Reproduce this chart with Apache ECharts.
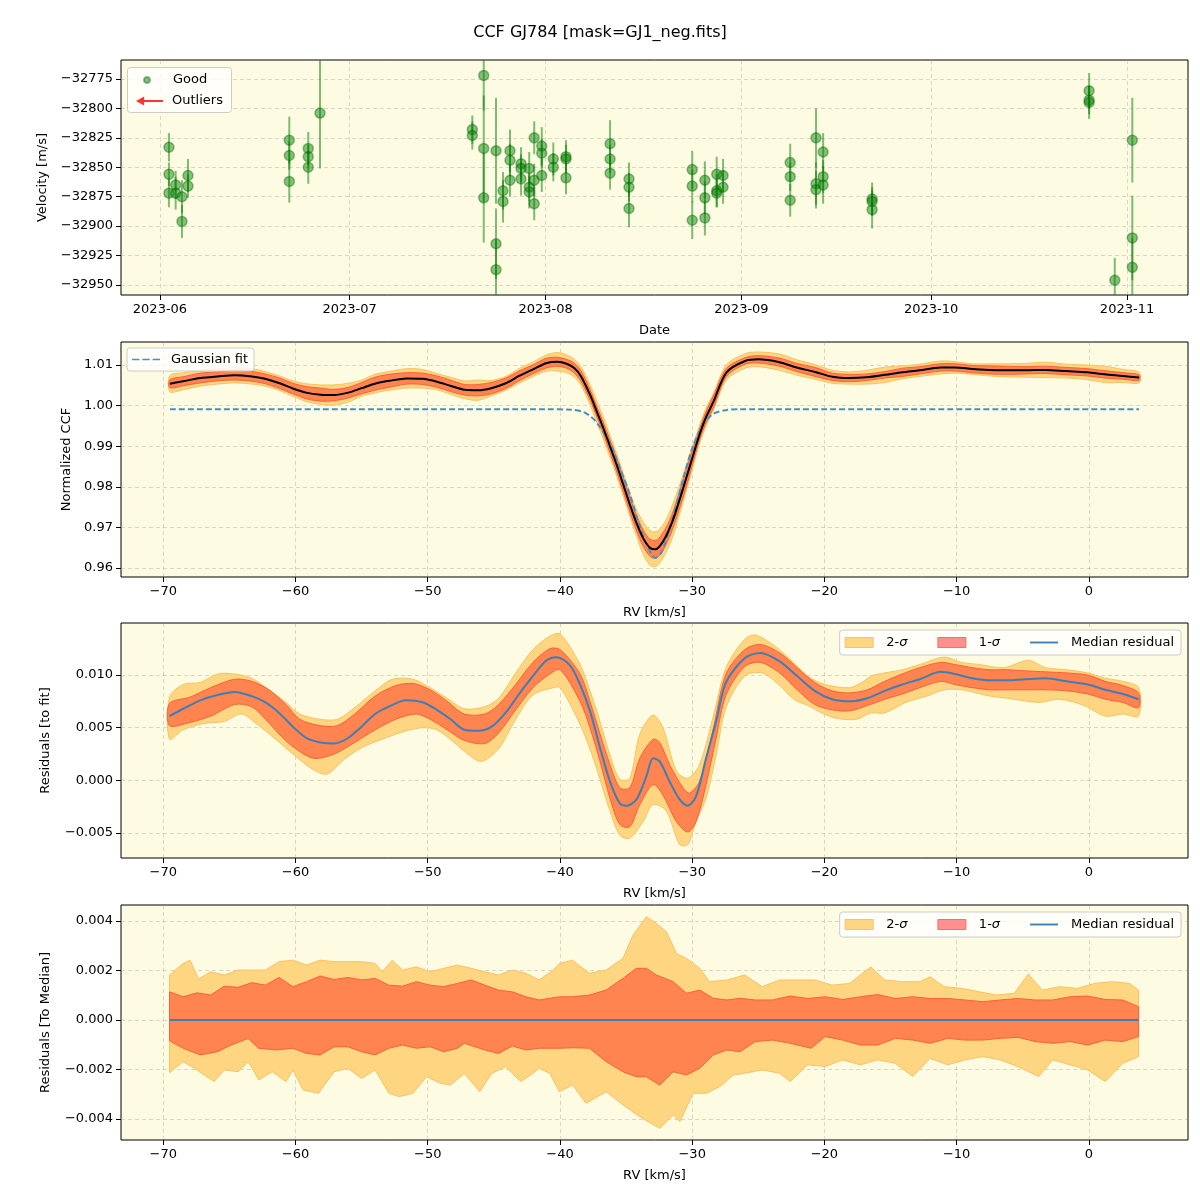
<!DOCTYPE html>
<html><head><meta charset="utf-8">
<script src="https://cdn.jsdelivr.net/npm/echarts@6/dist/echarts.min.js"></script>
<style>html,body{margin:0;padding:0;background:#fff}#c{width:1200px;height:1200px}</style>
</head><body><div id="c"></div>
<script>
// ---------- Panel 1: RV time series ----------
const obsTime = ['2023-06-02 10:00','2023-06-02 10:00','2023-06-02 10:00','2023-06-03 11:30','2023-06-03 11:30','2023-06-04 11:30','2023-06-04 11:30','2023-06-05 10:20','2023-06-05 10:20',
'2023-06-21 11:00','2023-06-21 11:00','2023-06-21 11:00','2023-06-24 11:00','2023-06-24 11:00','2023-06-24 11:00','2023-06-26 07:40',
'2023-07-20 10:00','2023-07-20 10:00','2023-07-22 05:20','2023-07-22 05:20','2023-07-22 05:20','2023-07-24 04:00','2023-07-24 04:00','2023-07-24 04:00',
'2023-07-25 06:30','2023-07-25 06:30','2023-07-26 09:00','2023-07-26 09:00','2023-07-26 09:00','2023-07-28 03:00','2023-07-28 03:00','2023-07-28 03:00',
'2023-07-29 10:00','2023-07-29 10:00','2023-07-29 10:00','2023-07-30 05:00','2023-07-30 05:00','2023-07-30 05:00','2023-07-31 09:40','2023-07-31 09:40','2023-07-31 09:40',
'2023-08-02 05:30','2023-08-02 05:30','2023-08-04 05:40','2023-08-04 05:40','2023-08-04 05:40','2023-08-11 05:00','2023-08-11 05:00','2023-08-11 05:00',
'2023-08-14 05:00','2023-08-14 05:00','2023-08-14 05:00','2023-08-24 05:00','2023-08-24 05:00','2023-08-24 05:00','2023-08-26 05:00','2023-08-26 05:00','2023-08-26 05:00',
'2023-08-28 02:00','2023-08-28 02:00','2023-08-28 02:00','2023-08-29 02:00','2023-08-29 02:00',
'2023-09-08 17:00','2023-09-08 17:00','2023-09-08 17:00','2023-09-12 19:00','2023-09-12 19:00','2023-09-12 19:00','2023-09-13 22:00','2023-09-13 22:00','2023-09-13 22:00',
'2023-09-21 16:00','2023-09-21 16:00','2023-09-21 16:00','2023-10-26 00:00','2023-10-26 00:00','2023-10-26 00:00','2023-10-30 01:30',
'2023-11-01 20:00','2023-11-01 20:00','2023-11-01 20:00'];
const obsVel = [-32833,-32856,-32872,-32865,-32872,-32875,-32896,-32857,-32866,
-32827,-32840,-32862,-32834,-32841,-32850,-32804,
-32818,-32823,-32772,-32834,-32876,-32836,-32915,-32937,
-32870,-32879,-32836,-32844,-32861,-32847,-32851,-32860,
-32851,-32867,-32871,-32825,-32861,-32881,-32832,-32838,-32857,
-32843,-32850,-32841,-32843,-32859,-32830,-32843,-32855,
-32860,-32867,-32885,-32852,-32866,-32895,-32861,-32876,-32893,
-32856,-32870,-32872,-32857,-32867,
-32846,-32858,-32878,-32825,-32864,-32869,-32837,-32858,-32865,
-32877,-32879,-32886,-32785,-32793,-32795,-32946,
-32827,-32910,-32935];
const obsErr = [12,10,12,12,14,14,14,14,10,
20,12,18,14,10,14,47,
12,12,30,45,38,45,30,25,
16,18,18,14,14,14,12,14,
14,12,14,14,14,14,16,12,14,
14,12,14,12,14,20,12,14,
14,12,16,16,14,16,16,14,15,
15,14,12,14,14,
16,12,14,25,18,16,16,14,16,
14,12,16,15,12,14,19,
36,36,25];
const monthTicks = ['2023-06-01','2023-07-01','2023-08-01','2023-09-01','2023-10-01','2023-11-01'];
const velTicks = [-32950,-32925,-32900,-32875,-32850,-32825,-32800,-32775];

// ---------- Panel 2: CCF ----------
const ccfRV = [-69.5,-68.5,-67.2,-65.9,-64.6,-63.3,-62.3,-61.2,-60.2,-59.2,-58.1,-57.1,-56.0,-55.0,-54.0,-52.9,-51.6,-50.4,-49.3,-48.3,-47.2,-46.2,-45.2,-44.1,-43.1,-42.0,-41.0,-40.2,-39.5,-38.9,-38.4,-37.7,-37.2,-36.7,-36.2,-35.7,-35.2,-34.7,-34.2,-33.7,-33.2,-32.8,-32.5,-32.0,-31.5,-31.0,-30.5,-30.0,-29.5,-29.0,-28.4,-27.4,-26.0,-25.0,-23.4,-22.1,-20.7,-19.4,-18.1,-16.8,-15.4,-14.1,-12.8,-11.2,-10.1,-8.8,-7.5,-6.2,-4.8,-3.3,-1.7,-0.1,1.2,2.6,3.8];
const ccfVal = [1.0054,1.0060,1.0068,1.0072,1.0075,1.0072,1.0066,1.0055,1.0042,1.0032,1.0027,1.0026,1.0032,1.0043,1.0054,1.0061,1.0067,1.0066,1.0059,1.0049,1.0039,1.0038,1.0043,1.0055,1.0073,1.0090,1.0105,1.0108,1.0103,1.0092,1.0072,1.0025,0.9984,0.9943,0.9898,0.9853,0.9804,0.9755,0.9710,0.9673,0.9650,0.9646,0.9652,0.9677,0.9714,0.9763,0.9816,0.9870,0.9923,0.9968,1.0009,1.0082,1.0110,1.0114,1.0107,1.0094,1.0083,1.0071,1.0068,1.0070,1.0076,1.0082,1.0087,1.0094,1.0094,1.0090,1.0088,1.0087,1.0087,1.0088,1.0085,1.0082,1.0077,1.0073,1.0069];
const ccfSig1 = [.0010,.0011,.0012,.0011,.0012,.0012,.0012,.0013,.0013,.0015,.0016,.0014,.0013,.0014,.0016,.0016,.0014,.0014,.0014,.0014,.0013,.0014,.0014,.0013,.0012,.0011,.0012,.0011,.0011,.0012,.0013,.0013,.0013,.0014,.0016,.0017,.0018,.0018,.0019,.0020,.0021,.0022,.0022,.0021,.0020,.0021,.0022,.0018,.0014,.0014,.0015,.0010,.0008,.0009,.0010,.0010,.0011,.0009,.0009,.0008,.0008,.0010,.0009,.0009,.0009,.0009,.0010,.0010,.0009,.0009,.0009,.0009,.0009,.0008,.0007];
const ccfSig2 = [.0020,.0021,.0020,.0019,.0019,.0019,.0018,.0018,.0019,.0022,.0024,.0025,.0023,.0020,.0023,.0023,.0024,.0023,.0020,.0021,.0022,.0025,.0019,.0017,.0018,.0018,.0020,.0023,.0022,.0022,.0023,.0025,.0026,.0027,.0027,.0028,.0028,.0029,.0033,.0040,.0043,.0043,.0042,.0040,.0040,.0036,.0032,.0028,.0022,.0022,.0020,.0019,.0018,.0018,.0020,.0019,.0018,.0016,.0015,.0017,.0019,.0016,.0015,.0016,.0014,.0013,.0015,.0016,.0017,.0019,.0017,.0018,.0020,.0016,.0013];
const gaussFit = [[-69.5,0.9991],[-41,0.9991],[-39.2,0.9990],[-38.2,0.9984],[-37.5,0.9968],[-37.0,0.9948],[-36.2,0.9907],[-35.5,0.9849],[-34.7,0.9780],[-34.0,0.9706],[-33.3,0.9648],[-32.8,0.9625],[-32.3,0.9640],[-31.7,0.9698],[-31.2,0.9755],[-30.6,0.9829],[-30.0,0.9894],[-29.2,0.9952],[-28.4,0.9980],[-27.4,0.9989],[-26.4,0.9991],[3.8,0.9991]];
const rvTicks = [-70,-60,-50,-40,-30,-20,-10,0];
const ccfTicks = [0.96,0.97,0.98,0.99,1.00,1.01];

// ---------- Panel 3: residuals to fit ----------
const resMed = [[-69.53,0.0061],[-68.5,0.0068],[-67.2,0.0076],[-65.9,0.0081],[-64.6,0.0084],[-63.31,0.0080],[-62.27,0.0074],[-61.24,0.0064],[-60.2,0.0051],[-59.16,0.0040],[-58.13,0.0036],[-57.09,0.0035],[-56.05,0.0040],[-55.01,0.0051],[-53.98,0.0063],[-52.94,0.0070],[-51.64,0.0076],[-50.35,0.0074],[-49.31,0.0067],[-48.27,0.0058],[-47.24,0.0048],[-46.2,0.0047],[-45.16,0.0051],[-44.12,0.0064],[-43.09,0.0082],[-42.05,0.0099],[-41.01,0.0114],[-40.24,0.0117],[-39.23,0.0109],[-38.48,0.0091],[-37.73,0.0066],[-36.97,0.0031],[-36.22,-0.0001],[-35.47,-0.0022],[-34.97,-0.0024],[-34.21,-0.0018],[-33.46,0.0004],[-32.96,0.0021],[-32.46,0.0018],[-31.71,-0.0001],[-30.95,-0.0018],[-30.33,-0.0024],[-29.7,-0.0015],[-28.95,0.0021],[-28.19,0.0056],[-27.44,0.0093],[-26.03,0.0116],[-24.84,0.0121],[-23.38,0.0113],[-22.06,0.0099],[-20.73,0.0085],[-19.41,0.0077],[-18.09,0.0075],[-16.76,0.0078],[-15.44,0.0085],[-14.11,0.0091],[-12.79,0.0096],[-11.2,0.0103],[-10.14,0.0101],[-8.82,0.0097],[-7.5,0.0095],[-6.17,0.0095],[-4.85,0.0096],[-3.26,0.0097],[-1.67,0.0094],[-0.08,0.0091],[1.24,0.0086],[2.57,0.0082],[3.76,0.0077]];
const resUp1 = [[-69.53,0.0073],[-67.98,0.0079],[-66.42,0.0088],[-64.61,0.0096],[-63.31,0.0094],[-62.01,0.0086],[-60.72,0.0072],[-59.68,0.0058],[-58.13,0.0052],[-56.83,0.0052],[-55.53,0.0063],[-53.98,0.0080],[-52.42,0.0090],[-51.12,0.0092],[-49.83,0.0086],[-48.53,0.0075],[-47.24,0.0063],[-45.68,0.0063],[-44.64,0.0072],[-43.35,0.0091],[-42.05,0.0112],[-40.76,0.0125],[-39.98,0.0124],[-38.48,0.0101],[-37.73,0.0075],[-36.97,0.0044],[-36.22,0.0015],[-35.47,-0.0007],[-34.72,-0.0007],[-33.96,0.0021],[-32.96,0.0039],[-32.46,0.0036],[-31.71,0.0015],[-30.70,-0.0007],[-30.2,-0.0012],[-29.45,-0.0001],[-28.44,0.0047],[-27.44,0.0101],[-26.03,0.0124],[-24.84,0.0129],[-23.38,0.0121],[-22.06,0.0107],[-20.73,0.0093],[-19.41,0.0085],[-18.09,0.0083],[-16.76,0.0086],[-15.44,0.0094],[-14.11,0.0101],[-12.79,0.0107],[-11.2,0.0112],[-10.14,0.0110],[-8.82,0.0107],[-7.5,0.0105],[-6.17,0.0105],[-4.85,0.0104],[-3.26,0.0103],[-1.67,0.0102],[-0.08,0.0100],[1.24,0.0094],[2.57,0.0090],[3.76,0.0083]];
const resLo1 = [[-69.53,0.0052],[-67.98,0.0055],[-66.42,0.0061],[-64.61,0.0072],[-63.31,0.0070],[-62.27,0.0058],[-61.24,0.0044],[-60.2,0.0032],[-58.64,0.0021],[-57.09,0.0025],[-55.53,0.0036],[-53.98,0.0048],[-52.42,0.0058],[-50.87,0.0063],[-49.83,0.0058],[-48.53,0.0048],[-47.24,0.0038],[-45.68,0.0035],[-44.64,0.0045],[-43.35,0.0067],[-42.05,0.0088],[-40.76,0.0101],[-39.98,0.0105],[-38.48,0.0075],[-37.73,0.0050],[-36.97,0.0018],[-36.22,-0.0017],[-35.47,-0.0042],[-34.72,-0.0044],[-33.96,-0.0023],[-32.96,-0.0004],[-32.21,-0.0014],[-31.2,-0.0039],[-30.33,-0.0049],[-29.7,-0.0039],[-28.95,-0.0004],[-28.19,0.0040],[-27.44,0.0081],[-26.03,0.0108],[-24.84,0.0112],[-23.38,0.0102],[-22.06,0.0086],[-20.73,0.0072],[-19.41,0.0067],[-18.09,0.0066],[-16.76,0.0071],[-15.44,0.0077],[-14.11,0.0082],[-12.79,0.0088],[-11.2,0.0094],[-10.14,0.0091],[-8.82,0.0088],[-7.5,0.0086],[-6.17,0.0086],[-4.85,0.0086],[-3.26,0.0086],[-1.67,0.0085],[-0.08,0.0082],[1.24,0.0077],[2.57,0.0074],[3.76,0.0069]];
const resUp2 = [[-69.53,0.0079],[-68.5,0.0091],[-67.2,0.0093],[-65.9,0.0101],[-64.61,0.0101],[-63.31,0.0097],[-62.01,0.0086],[-60.72,0.0074],[-59.68,0.0063],[-58.13,0.0058],[-56.83,0.0058],[-55.53,0.0069],[-53.98,0.0085],[-52.68,0.0096],[-51.12,0.0096],[-49.83,0.0088],[-48.53,0.0078],[-47.24,0.0068],[-45.68,0.0070],[-44.64,0.0078],[-43.35,0.0102],[-42.05,0.0124],[-40.76,0.0137],[-39.98,0.0139],[-38.48,0.0110],[-37.73,0.0085],[-36.97,0.0056],[-36.22,0.0024],[-35.47,0.0001],[-34.72,0.0002],[-33.96,0.0044],[-32.96,0.0062],[-32.21,0.0050],[-31.2,0.0009],[-30.33,0.0002],[-29.45,0.0015],[-28.44,0.0059],[-27.44,0.0107],[-26.03,0.0134],[-25.23,0.0138],[-23.91,0.0129],[-22.59,0.0115],[-21.26,0.0099],[-19.94,0.0091],[-18.09,0.0088],[-17.03,0.0094],[-16.5,0.0099],[-15.44,0.0102],[-14.11,0.0105],[-12.79,0.0110],[-10.94,0.0117],[-9.61,0.0112],[-8.29,0.0110],[-6.44,0.0107],[-4.58,0.0114],[-3.26,0.0107],[-1.67,0.0105],[-0.08,0.0102],[1.24,0.0097],[2.57,0.0094],[3.76,0.0088]];
const resLo2 = [[-69.53,0.0039],[-68.5,0.0048],[-66.94,0.0054],[-65.39,0.0056],[-64.09,0.0063],[-62.79,0.0052],[-61.5,0.0039],[-60.2,0.0025],[-58.64,0.0010],[-57.61,0.0006],[-56.31,0.0020],[-55.01,0.0031],[-53.46,0.0039],[-51.64,0.0047],[-50.35,0.0050],[-49.31,0.0048],[-48.01,0.0036],[-46.98,0.0025],[-45.94,0.0018],[-44.64,0.0030],[-43.35,0.0058],[-42.05,0.0081],[-40.5,0.0088],[-39.98,0.0088],[-38.48,0.0053],[-37.48,0.0021],[-36.22,-0.0029],[-35.47,-0.0052],[-34.72,-0.0055],[-33.71,-0.0039],[-32.96,-0.0023],[-31.96,-0.0029],[-30.95,-0.0061],[-30.33,-0.0061],[-29.7,-0.0039],[-28.95,-0.0017],[-28.19,0.0024],[-27.44,0.0069],[-26.03,0.0099],[-24.7,0.0102],[-23.38,0.0090],[-22.32,0.0077],[-21.26,0.0071],[-20.2,0.0064],[-19.14,0.0059],[-17.56,0.0058],[-16.5,0.0064],[-15.44,0.0064],[-13.85,0.0074],[-12.26,0.0080],[-10.94,0.0086],[-9.61,0.0086],[-7.5,0.0080],[-6.17,0.0078],[-3.79,0.0074],[-2.2,0.0077],[-0.35,0.0071],[1.24,0.0061],[2.57,0.0063],[3.76,0.0061]];
const resTicks = [-0.005,0.000,0.005,0.010];

// ---------- Panel 4: residuals to median ----------
const medZero = [[-69.53,0],[3.76,0]];
const mUp2 = [[-69.53,0.00182],[-68.5,0.00229],[-67.98,0.00242],[-67.33,0.00166],[-66.42,0.00195],[-65.39,0.00182],[-64.35,0.00202],[-63.31,0.00202],[-62.27,0.00202],[-61.24,0.00236],[-60.2,0.00242],[-59.16,0.00222],[-58.13,0.00242],[-57.09,0.00236],[-56.05,0.00236],[-55.01,0.00236],[-53.98,0.00229],[-53.46,0.00195],[-52.68,0.00242],[-51.9,0.00202],[-50.87,0.00215],[-49.83,0.00195],[-48.79,0.00209],[-47.75,0.00222],[-46.72,0.00209],[-45.68,0.00195],[-44.64,0.00182],[-43.61,0.00202],[-42.57,0.00189],[-41.57,0.00162],[-40.5,0.00202],[-40.05,0.00229],[-39.04,0.00242],[-38.42,0.00215],[-37.77,0.00189],[-36.51,0.00202],[-35.24,0.00249],[-34.48,0.00343],[-33.47,0.00418],[-32.71,0.00391],[-31.95,0.00357],[-31.19,0.00269],[-30.43,0.00249],[-29.42,0.00209],[-28.68,0.00155],[-27.35,0.00162],[-26.03,0.00182],[-24.7,0.00135],[-23.38,0.00162],[-22.06,0.00162],[-20.73,0.00162],[-19.41,0.00141],[-18.09,0.00148],[-17.29,0.00182],[-16.5,0.00215],[-15.44,0.00162],[-14.11,0.00155],[-12.79,0.00155],[-12,0.00175],[-10.94,0.00135],[-9.61,0.00128],[-8.29,0.00114],[-6.97,0.00101],[-5.64,0.00108],[-4.58,0.00186],[-3.52,0.00121],[-2.2,0.00135],[-0.88,0.00128],[0.45,0.00148],[1.77,0.00155],[3.09,0.00148],[3.76,0.00121]];
const mLo2 = [[-69.53,-0.00213],[-68.5,-0.00168],[-67.46,-0.00202],[-66.16,-0.00249],[-65.39,-0.00202],[-64.35,-0.00209],[-63.57,-0.00168],[-62.79,-0.00242],[-61.76,-0.00209],[-60.72,-0.00249],[-60.2,-0.00202],[-59.42,-0.00283],[-58.26,-0.00296],[-57.09,-0.00209],[-56.05,-0.00195],[-55.01,-0.00236],[-53.98,-0.00202],[-52.94,-0.00296],[-52.16,-0.0031],[-51.12,-0.00296],[-50.09,-0.00229],[-49.05,-0.00256],[-48.27,-0.00263],[-47.23,-0.00216],[-46.07,-0.0029],[-45.16,-0.00216],[-44.12,-0.00189],[-42.96,-0.00249],[-42.05,-0.00216],[-41.57,-0.00195],[-40.76,-0.00216],[-40.05,-0.0029],[-39.04,-0.00263],[-38.03,-0.00337],[-36.51,-0.0029],[-35.24,-0.00343],[-33.97,-0.00391],[-32.46,-0.00438],[-31.44,-0.00384],[-30.94,-0.00411],[-29.92,-0.00296],[-28.91,-0.00296],[-27.9,-0.00269],[-26.89,-0.00222],[-26.03,-0.00215],[-24.7,-0.00202],[-23.38,-0.00215],[-22.59,-0.00249],[-21.26,-0.00181],[-19.94,-0.00188],[-18.62,-0.00161],[-17.29,-0.00181],[-15.97,-0.00161],[-14.64,-0.00175],[-13.32,-0.00228],[-12,-0.00155],[-10.67,-0.00181],[-9.35,-0.00161],[-8.02,-0.00148],[-6.7,-0.00161],[-5.38,-0.00188],[-3.79,-0.00228],[-2.73,-0.00161],[-1.41,-0.00181],[-0.08,-0.00202],[1.24,-0.00249],[2.57,-0.00175],[3.76,-0.00148]];
const mUp1 = [[-69.53,0.00114],[-68.5,0.00094],[-67.46,0.0011],[-66.42,0.00101],[-65.39,0.00137],[-64.35,0.00132],[-63.31,0.00151],[-62.27,0.00141],[-61.24,0.00172],[-60.2,0.00135],[-59.16,0.00155],[-58.13,0.00178],[-57.09,0.00164],[-56.05,0.00172],[-55.01,0.00162],[-53.98,0.00168],[-52.94,0.00141],[-51.9,0.00137],[-50.87,0.00155],[-49.83,0.00141],[-48.79,0.00135],[-47.75,0.00148],[-46.72,0.00162],[-45.68,0.00141],[-44.64,0.00121],[-43.61,0.00114],[-42.57,0.00094],[-41.57,0.00081],[-40.05,0.00094],[-39.04,0.00094],[-37.77,0.00101],[-36.51,0.00121],[-35.24,0.00168],[-34.23,0.00209],[-33.47,0.00209],[-32.71,0.00182],[-31.44,0.00155],[-30.43,0.00108],[-29.42,0.00121],[-28.41,0.00088],[-27.39,0.00081],[-26.38,0.00088],[-25.23,0.00081],[-23.91,0.00081],[-22.59,0.00097],[-21.26,0.00087],[-19.94,0.00094],[-18.62,0.00083],[-17.29,0.00094],[-15.97,0.00103],[-14.64,0.00087],[-13.32,0.00094],[-12,0.00087],[-10.67,0.00087],[-9.35,0.00081],[-8.02,0.00074],[-6.7,0.00081],[-5.38,0.00087],[-4.05,0.00081],[-2.73,0.00081],[-1.41,0.00094],[-0.08,0.00097],[1.24,0.00083],[2.57,0.00081],[3.76,0.00054]];
const mLo1 = [[-69.53,-0.00084],[-68.5,-0.00114],[-67.2,-0.00141],[-65.91,-0.00128],[-64.87,-0.00101],[-63.57,-0.00074],[-62.79,-0.00114],[-61.5,-0.00121],[-60.2,-0.00114],[-59.16,-0.00135],[-58.13,-0.00141],[-57.09,-0.00108],[-56.05,-0.00108],[-55.01,-0.00128],[-53.98,-0.00141],[-52.94,-0.00114],[-51.9,-0.00101],[-50.87,-0.00114],[-49.83,-0.00108],[-48.79,-0.00128],[-47.75,-0.00114],[-47.23,-0.00094],[-45.68,-0.00121],[-44.64,-0.00135],[-43.61,-0.00105],[-42.57,-0.00121],[-41.57,-0.00114],[-40.05,-0.00114],[-39.04,-0.00112],[-37.77,-0.00114],[-36.51,-0.00168],[-35.24,-0.00209],[-34.23,-0.00229],[-33.47,-0.00229],[-32.46,-0.00263],[-31.44,-0.00209],[-30.43,-0.00222],[-29.42,-0.00195],[-28.41,-0.00141],[-27.39,-0.00121],[-26.38,-0.00128],[-25.23,-0.00087],[-23.91,-0.00081],[-22.59,-0.00094],[-21,-0.00114],[-19.94,-0.00067],[-18.62,-0.00081],[-17.29,-0.00101],[-15.97,-0.00101],[-14.64,-0.00074],[-13.32,-0.00081],[-12,-0.00094],[-10.67,-0.00074],[-9.35,-0.00081],[-8.02,-0.00081],[-6.7,-0.00074],[-5.38,-0.0007],[-4.05,-0.00087],[-2.73,-0.00094],[-1.41,-0.00087],[-0.08,-0.00101],[1.24,-0.00081],[2.57,-0.00087],[3.76,-0.00067]];
const medTicks = [-0.004,-0.002,0.000,0.002,0.004];

// ---------- styling ----------
const FONT = 'DejaVu Sans';
const BG = '#fdfbe2';
const C2 = '#fed581', C2E = '#fbc260';
const C1 = '#ff8450', C1E = '#fb5f3c';
const BLUE = '#3d7fb5';
const GRID = {color: 'rgba(150,150,150,0.45)', type: [4, 3], width: 0.8};
const minus = (s) => s.replace('-', '\u2212');
const fmt = (d) => (v) => minus(Number(v).toFixed(d));

const tops = [60, 342, 623, 905];
const grids = tops.map(t => ({left: 121, top: t, width: 1067, height: 235, show: true, backgroundColor: BG, borderColor: '#000', borderWidth: 1, containLabel: false}));

function ts(s) { return new Date(s.replace(' ', 'T')).getTime(); }

function xRV(gi) {
  return {type: 'value', gridIndex: gi, min: -73.2, max: 7.5, position: 'bottom',
    name: 'RV [km/s]', nameLocation: 'middle', nameGap: 29,
    nameTextStyle: {fontFamily: FONT, fontSize: 13, color: '#000'},
    axisLine: {show: false, onZero: false},
    axisTick: {show: true, length: 5, inside: false, lineStyle: {color: '#000', width: 1}, customValues: rvTicks},
    axisLabel: {customValues: rvTicks, formatter: fmt(0), fontFamily: FONT, fontSize: 13, color: '#000', margin: 8},
    splitLine: {show: true, lineStyle: GRID}};
}
function yAx(gi, min, max, ticks, dec, name, gap) {
  return {type: 'value', gridIndex: gi, min: min, max: max, position: 'left',
    name: name, nameLocation: 'middle', nameGap: gap, nameRotate: 90,
    nameTextStyle: {fontFamily: FONT, fontSize: 13, color: '#000'},
    axisLine: {show: false, onZero: false},
    axisTick: {show: true, length: 5, lineStyle: {color: '#000', width: 1}, customValues: ticks},
    axisLabel: {customValues: ticks, formatter: fmt(dec), fontFamily: FONT, fontSize: 13, color: '#000', margin: 8},
    splitLine: {show: true, lineStyle: GRID}};
}

function band(name, xi, upper, lower, fill, edge, z, smooth) {
  return {type: 'custom', name: name, xAxisIndex: xi, yAxisIndex: xi, z: z, silent: true,
    data: [upper[0]],
    renderItem: function (params, api) {
      const up = upper.map(p => api.coord(p));
      const lo = lower.map(p => api.coord(p)).reverse();
      return {type: 'polygon', shape: {points: up.concat(lo), smooth: smooth},
        style: {fill: fill, stroke: edge, lineWidth: 1}};
    }};
}

const ccfUp2 = ccfRV.map((r, i) => [r, ccfVal[i] + ccfSig2[i]]);
const ccfLo2 = ccfRV.map((r, i) => [r, ccfVal[i] - ccfSig2[i]]);
const ccfUp1 = ccfRV.map((r, i) => [r, ccfVal[i] + ccfSig1[i]]);
const ccfLo1 = ccfRV.map((r, i) => [r, ccfVal[i] - ccfSig1[i]]);

const obsData = obsTime.map((t, i) => [ts(t), obsVel[i], obsErr[i]]);

const arrowIcon = 'path://M0,5 L9,0 L9,4 L30,4 L30,6 L9,6 L9,10 Z';
function legText(pad) {
  return {fontFamily: FONT, fontSize: 13, color: '#000',
    rich: {t: {fontFamily: FONT, fontSize: 13, color: '#000', padding: [0, 0, 0, pad]},
           i: {fontFamily: FONT, fontSize: 13, fontStyle: 'italic', color: '#000'}}};
}
const legBox = {backgroundColor: 'rgba(255,255,255,0.8)', borderColor: '#cccccc', borderWidth: 1, borderRadius: 3};
function sigLegend(top) {
  return Object.assign({top: top, right: 19, orient: 'horizontal', itemWidth: 28, itemHeight: 10, itemGap: 30,
    padding: [6, 7, 6, 5], z: 10, selectedMode: false,
    formatter: (n) => n.indexOf('\u03c3') >= 0 ? '{t|' + n.replace('\u03c3', '') + '}{i|\u03c3}' : '{t|' + n + '}',
    textStyle: legText(8),
    data: [
      {name: '2-\u03c3', icon: 'rect', itemStyle: {color: C2, borderColor: C2E, borderWidth: 1}},
      {name: '1-\u03c3', icon: 'rect', itemStyle: {color: '#ff9090', borderColor: '#ff6a6a', borderWidth: 1}},
      {name: 'Median residual', icon: 'path://M0,0 L30,0 L30,2 L0,2 Z', itemStyle: {color: BLUE}}
    ]}, legBox);
}

const xMin = ts('2023-05-25 20:00'), xMax = ts('2023-11-10 15:30');
const option = {
  animation: false,
  backgroundColor: '#fff',
  textStyle: {fontFamily: FONT},
  title: {text: 'CCF GJ784 [mask=GJ1_neg.fits]', left: 'center', top: 20,
    textStyle: {fontFamily: FONT, fontSize: 16, fontWeight: 'normal', color: '#000'}},
  graphic: [{type: 'rect', left: 127, top: 67, z: 9, shape: {width: 104, height: 45, r: 3},
    style: {fill: 'rgba(255,255,255,0.8)', stroke: '#cccccc', lineWidth: 1}}],
  legend: [
    {left: 143, top: 72, z: 10, padding: 0, itemWidth: 6, itemHeight: 6, selectedMode: false,
      formatter: '{t|{name}}', textStyle: Object.assign(legText(18), {lineHeight: 16}),
      data: [{name: 'Good', icon: 'circle', itemStyle: {color: 'rgba(0,128,0,0.6)'}}]},
    {left: 136, top: 93, z: 10, padding: 0, itemWidth: 27, itemHeight: 9, selectedMode: false,
      formatter: '{t|{name}}', textStyle: Object.assign(legText(4), {lineHeight: 16}),
      data: [{name: 'Outliers', icon: arrowIcon, itemStyle: {color: '#ff0000'}}]},
    Object.assign({left: 127, top: 348, itemWidth: 28, itemHeight: 10, padding: [5, 6, 5, 5], z: 10, selectedMode: false,
      formatter: '{t|{name}}', textStyle: legText(6),
      data: [{name: 'Gaussian fit', icon: 'path://M0,0 L10,0 L10,2 L0,2 Z M14,0 L24,0 L24,2 L14,2 Z M28,0 L38,0 L38,2 L28,2 Z', itemStyle: {color: '#4a8fc4'}}]}, legBox),
    sigLegend(630),
    sigLegend(912)
  ],
  grid: grids,
  xAxis: [
    {type: 'value', gridIndex: 0, min: xMin, max: xMax, scale: true, position: 'bottom',
      name: 'Date', nameLocation: 'middle', nameGap: 29,
      nameTextStyle: {fontFamily: FONT, fontSize: 13, color: '#000'},
      axisLine: {show: false, onZero: false},
      axisTick: {show: true, length: 5, lineStyle: {color: '#000', width: 1}, customValues: monthTicks.map(ts)},
      axisLabel: {customValues: monthTicks.map(ts), fontFamily: FONT, fontSize: 13, color: '#000', margin: 8,
        formatter: (v) => { const d = new Date(v); return d.getFullYear() + '-' + String(d.getMonth() + 1).padStart(2, '0'); }},
      splitLine: {show: true, lineStyle: GRID}},
    xRV(1), xRV(2), xRV(3)
  ],
  yAxis: [
    yAx(0, -32958.5, -32758.9, velTicks, 0, 'Velocity [m/s]', 72),
    yAx(1, 0.95778, 1.01567, ccfTicks, 2, 'Normalized CCF', 47),
    yAx(2, -0.00737, 0.01494, resTicks, 3, 'Residuals [to fit]', 69),
    yAx(3, -0.00485, 0.00465, medTicks, 3, 'Residuals [To Median]', 69)
  ],
  series: [
    {type: 'custom', name: 'errbars', xAxisIndex: 0, yAxisIndex: 0, z: 2, silent: true,
      data: obsData,
      renderItem: function (params, api) {
        const x = api.value(0), v = api.value(1), e = api.value(2);
        const p1 = api.coord([x, v + e]), p2 = api.coord([x, v - e]);
        const cs = params.coordSys;
        const cl = (y) => Math.max(cs.y, Math.min(cs.y + cs.height, y));
        return {type: 'line', shape: {x1: p1[0], y1: cl(p1[1]), x2: p2[0], y2: cl(p2[1])},
          style: {stroke: 'rgba(0,128,0,0.5)', lineWidth: 2}};
      }},
    {type: 'scatter', name: 'Good', xAxisIndex: 0, yAxisIndex: 0, z: 3, symbol: 'circle', symbolSize: 10,
      data: obsData.map(d => [d[0], d[1]]),
      itemStyle: {color: 'rgba(0,128,0,0.6)', borderColor: 'rgba(0,100,0,0.5)', borderWidth: 1.5}},
    {type: 'scatter', name: 'Outliers', xAxisIndex: 0, yAxisIndex: 0, data: [], itemStyle: {color: '#ff0000'}},

    band('ccf2', 1, ccfUp2, ccfLo2, C2, C2E, 2, 0.3),
    band('ccf1', 1, ccfUp1, ccfLo1, C1, C1E, 3, 0.3),
    {type: 'line', name: 'Gaussian fit', xAxisIndex: 1, yAxisIndex: 1, z: 4, showSymbol: false, symbol: 'none',
      smooth: 0.3, data: gaussFit, lineStyle: {color: '#4a8fc4', width: 2, type: [6, 3]}},
    {type: 'line', name: 'CCF median', xAxisIndex: 1, yAxisIndex: 1, z: 5, showSymbol: false, symbol: 'none',
      smooth: 0.3, data: ccfRV.map((r, i) => [r, ccfVal[i]]), lineStyle: {color: '#000', width: 2}},

    band('2-\u03c3', 2, resUp2, resLo2, C2, C2E, 2, 0.3),
    band('1-\u03c3', 2, resUp1, resLo1, C1, C1E, 3, 0.3),
    {type: 'line', name: 'Median residual', xAxisIndex: 2, yAxisIndex: 2, z: 5, showSymbol: false, symbol: 'none',
      smooth: 0.3, data: resMed, lineStyle: {color: BLUE, width: 2}},

    band('2-\u03c3', 3, mUp2, mLo2, C2, C2E, 2, 0),
    band('1-\u03c3', 3, mUp1, mLo1, C1, C1E, 3, 0),
    {type: 'line', name: 'Median residual', xAxisIndex: 3, yAxisIndex: 3, z: 5, showSymbol: false, symbol: 'none',
      data: medZero, lineStyle: {color: BLUE, width: 2}}
  ]
};
const chart = echarts.init(document.getElementById('c'), null, {renderer: 'canvas'});
chart.setOption(option);
</script></body></html>
